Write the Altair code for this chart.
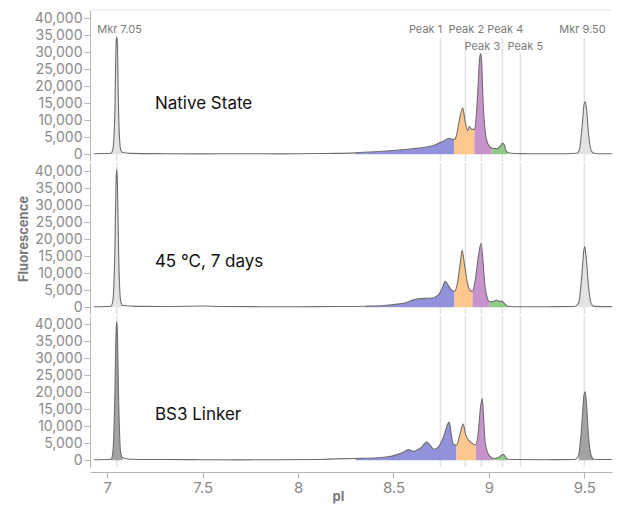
import altair as alt
import pandas as pd

X_DOMAIN = [6.91, 9.645]
Y_DOMAIN = [-2000, 42400]
W, H = 522, 151
FONT = "Inter"

# ---- traces (pI, fluorescence) ----
NATIVE_PI = [6.93, 6.98, 7.02, 7.03, 7.04, 7.047, 7.05, 7.053, 7.06, 7.07, 7.08, 7.12, 7.3, 7.5, 7.7, 7.9,
             8.1, 8.2, 8.3, 8.4, 8.5, 8.6, 8.68, 8.72, 8.76, 8.788, 8.80, 8.817, 8.83, 8.845, 8.863, 8.873,
             8.889, 8.897, 8.91, 8.924, 8.935, 8.945, 8.952, 8.957, 8.962, 8.97, 8.98, 8.995, 9.015, 9.04,
             9.06, 9.072, 9.08, 9.09, 9.10, 9.13, 9.2, 9.3, 9.4, 9.46, 9.475, 9.488, 9.5, 9.505, 9.512,
             9.522, 9.535, 9.55, 9.6, 9.68]
NATIVE_FL = [150, 200, 300, 1500, 12000, 33000, 34500, 33000, 12000, 1500, 500, 250, 150, 100, 150, 100,
             200, 250, 400, 700, 1100, 1600, 2200, 2800, 3800, 4600, 4500, 4300, 5500, 10000, 13600, 10500,
             6900, 8100, 7300, 7300, 12000, 22000, 28500, 29500, 27000, 15000, 7000, 3000, 1800, 1600,
             2400, 3300, 2800, 1000, 500, 200, 150, 120, 150, 300, 1500, 8000, 15000, 15400, 13000,
             6000, 1200, 300, 150, 150]
NATIVE_BOUNDS = [8.3, 8.817, 8.924, 9.015, 9.10]

HEAT_PI = [6.93, 7.0, 7.02, 7.03, 7.04, 7.047, 7.05, 7.053, 7.06, 7.07, 7.08, 7.15, 7.3, 7.5, 7.6, 7.8,
           8.0, 8.2, 8.35, 8.45, 8.52, 8.57, 8.605, 8.63, 8.70, 8.735, 8.755, 8.771, 8.785, 8.80, 8.82,
           8.835, 8.85, 8.86, 8.872, 8.89, 8.905, 8.914, 8.93, 8.945, 8.959, 8.97, 8.98, 8.99, 9.003,
           9.02, 9.04, 9.055, 9.067, 9.08, 9.098, 9.13, 9.3, 9.45, 9.47, 9.485, 9.497, 9.502, 9.51,
           9.522, 9.535, 9.55, 9.68]
HEAT_FL = [150, 200, 300, 2000, 16000, 38000, 40500, 38000, 16000, 2000, 500, 250, 200, 350, 200, 150,
           150, 200, 300, 500, 900, 1400, 2200, 2500, 2700, 3600, 5500, 7600, 6600, 5300, 4700,
           7000, 13000, 16700, 12500, 6500, 4800, 4700, 8500, 15000, 18800, 13000, 6000, 3000, 1600,
           1600, 2100, 1700, 1800, 1200, 300, 150, 150, 200, 1200, 8000, 16500, 17800, 14500,
           6000, 1200, 250, 150]
HEAT_BOUNDS = [8.35, 8.82, 8.914, 9.003, 9.098]

BS3_PI = [6.93, 7.0, 7.02, 7.03, 7.04, 7.047, 7.05, 7.053, 7.06, 7.07, 7.08, 7.12, 7.3, 7.5, 7.7, 7.9,
          8.1, 8.2, 8.3, 8.42, 8.47, 8.51, 8.55, 8.578, 8.605, 8.64, 8.675, 8.695, 8.71, 8.736, 8.76,
          8.792, 8.802, 8.812, 8.83, 8.85, 8.865, 8.878, 8.893, 8.914, 8.931, 8.945, 8.955, 8.965,
          8.972, 8.98, 9.0, 9.024, 9.05, 9.076, 9.09, 9.10, 9.15, 9.3, 9.45, 9.47, 9.485, 9.498,
          9.504, 9.512, 9.522, 9.535, 9.55, 9.68]
BS3_FL = [150, 200, 300, 2500, 18000, 38500, 40700, 38500, 18000, 2500, 700, 300, 200, 150, 100, 150,
          200, 400, 500, 700, 1000, 1500, 2300, 3100, 2600, 3500, 5300, 4200, 3200, 3900, 6500,
          11200, 8000, 4900, 4400, 8000, 10600, 7500, 5900, 4900, 4500, 8500, 15000, 18100,
          13000, 5500, 1500, 500, 800, 1700, 700, 300, 200, 150, 200, 1500, 9000, 19000,
          20100, 16000, 7000, 1500, 300, 200]
BS3_BOUNDS = [8.3, 8.83, 8.931, 9.024, 9.10]

PANEL_NAMES = ["Native State", "45 °C, 7 days", "BS3 Linker"]
PANEL_TEXT_Y = [14700, 13200, 13200]
TEXT_PI = 7.25

MARKER_RANGES = [(7.02, 7.08), (9.46, 9.55)]
REGION_COLORS = ["#9093db", "#fec78d", "#c893cd", "#8fcb87"]
MARKER_FILLS = ["#e3e3e3", "#e3e3e3", "#a3a3a3"]

PEAK_NAMES = ["Mkr 7.05", "Peak 1", "Peak 2", "Peak 3", "Peak 4", "Peak 5", "Mkr 9.50"]
PEAK_PI = [7.05, 8.746, 8.877, 8.961, 9.071, 9.165, 9.50]
PEAK_LABEL_PI = [7.065, 8.668, 8.882, 8.966, 9.086, 9.191, 9.49]
PEAK_LABEL_Y = [36500, 36500, 36500, 31500, 36500, 31500, 36500]
PEAK_RULE_TOP = [34100, 34100, 34100, 29400, 34100, 29400, 34100]

X_TICKS = [7, 7.5, 8, 8.5, 9, 9.5]
Y_TICKS = [0, 5000, 10000, 15000, 20000, 25000, 30000, 35000, 40000]

xs = alt.Scale(domain=X_DOMAIN, nice=False, zero=False)
ys = alt.Scale(domain=Y_DOMAIN, nice=False, zero=False)


def area_df(pis, fls, bounds, marker_fill):
    rows = []
    for i, (lo, hi) in enumerate(zip(bounds[:-1], bounds[1:])):
        for p, f in zip(pis, fls):
            if lo <= p <= hi:
                rows.append(dict(pI=p, fl=f, seg=f"r{i}", fill=REGION_COLORS[i]))
    for j, (lo, hi) in enumerate(MARKER_RANGES):
        for p, f in zip(pis, fls):
            if lo <= p <= hi:
                rows.append(dict(pI=p, fl=f, seg=f"m{j}", fill=marker_fill))
    return pd.DataFrame(rows)


def panel(idx, pis, fls, bounds):
    top = idx == 0
    bottom = idx == 2
    middle = idx == 1
    yaxis = alt.Axis(values=Y_TICKS, format=",.0f", labelOverlap=False,
                     title="Fluorescence" if middle else None)
    if bottom:
        xaxis = alt.Axis(values=X_TICKS, format="~g", title="pI", grid=False, offset=5,
                         tickSize=6, labelPadding=2, labelFontSize=15,
                         titleX=242, titleY=18, titleAnchor="start", titleAlign="left")
    else:
        xaxis = None

    def X(field):
        return alt.X(field, scale=xs, axis=xaxis)

    def Y(field):
        return alt.Y(field, scale=ys, axis=yaxis)

    peaks = pd.DataFrame(dict(name=PEAK_NAMES, pI=PEAK_PI, lpi=PEAK_LABEL_PI,
                              ly=PEAK_LABEL_Y, top=PEAK_RULE_TOP))
    if top:
        rules = alt.Chart(peaks).mark_rule(color="#e2e2e2", strokeWidth=1.5).encode(
            x=X("pI:Q"), y=Y("top:Q"), y2=alt.datum(Y_DOMAIN[0]),
        )
    else:
        rules = alt.Chart(peaks).mark_rule(color="#e2e2e2", strokeWidth=1.5).encode(
            x=X("pI:Q"), y=alt.value(0), y2=alt.value(H),
        )

    adf = area_df(pis, fls, bounds, MARKER_FILLS[idx])
    areas = alt.Chart(adf).mark_area(interpolate="monotone", clip=True).encode(
        x=X("pI:Q"), y=Y("fl:Q"), y2=alt.datum(0),
        color=alt.Color("fill:N", scale=None),
        detail="seg:N",
    )
    tdf = pd.DataFrame(dict(pI=pis, fl=fls))
    line = alt.Chart(tdf).mark_line(interpolate="monotone", color="#6e6e6e", strokeWidth=1.1,
                                    clip=True).encode(
        x=X("pI:Q"), y=Y("fl:Q"),
    )
    label = alt.Chart(pd.DataFrame(dict(t=[PANEL_NAMES[idx]], pI=[TEXT_PI], fl=[PANEL_TEXT_Y[idx]]))).mark_text(
        align="left", baseline="middle", fontSize=17, font=FONT, color="#111111"
    ).encode(x=X("pI:Q"), y=Y("fl:Q"), text="t:N")

    layers = [rules, areas, line, label]
    if top:
        plabels = alt.Chart(peaks).mark_text(
            align="center", baseline="middle", fontSize=11, font=FONT, color="#7a7a7a"
        ).encode(x=X("lpi:Q"), y=Y("ly:Q"), text="name:N")
        topline = alt.Chart(pd.DataFrame(dict(a=[0]))).mark_rule(color="#e6e6e6").encode(
            x=alt.value(0), x2=alt.value(W), y=alt.value(0))
        layers = [topline] + layers + [plabels]
    return alt.layer(*layers).properties(width=W, height=H)


p1 = panel(0, NATIVE_PI, NATIVE_FL, NATIVE_BOUNDS)
p2 = panel(1, HEAT_PI, HEAT_FL, HEAT_BOUNDS)
p3 = panel(2, BS3_PI, BS3_FL, BS3_BOUNDS)

chart = alt.vconcat(p1, p2, p3, spacing=0).properties(
    padding={"left": 9, "top": 1, "right": 0, "bottom": 15}
).configure_view(stroke=None).configure_axis(
    labelFont=FONT, titleFont=FONT, labelColor="#8a8a8a", titleColor="#7a7a7a",
    labelFontSize=14, titleFontSize=13, titleFontWeight="bold",
    domainColor="#b5b5b5", tickColor="#b5b5b5", grid=False, labelPadding=2, tickSize=6,
)

chart.save("out.html", embed_options={"renderer": "svg", "actions": False})
